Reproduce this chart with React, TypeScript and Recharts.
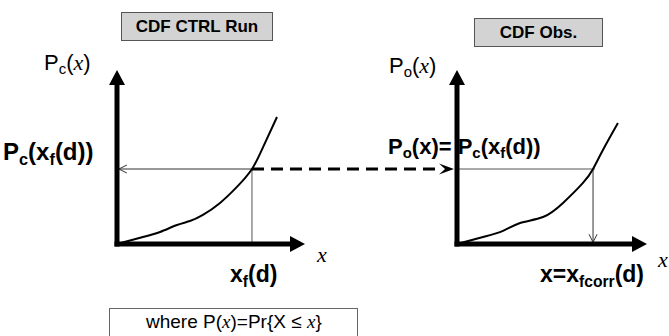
import React from 'react';
import { LineChart, Line, XAxis, YAxis, ReferenceLine } from 'recharts';

// curve points, x and P both on a 0..1 scale
const ctrlX = [0, 0.138, 0.229, 0.319, 0.388, 0.457, 0.548, 0.638, 0.718, 0.777, 0.851];
const ctrlP = [0, 0.04, 0.069, 0.109, 0.132, 0.167, 0.236, 0.328, 0.431, 0.557, 0.73];
const obsX = [0, 0.137, 0.242, 0.332, 0.453, 0.558, 0.663, 0.716, 0.768, 0.847];
const obsP = [0, 0.04, 0.075, 0.121, 0.155, 0.236, 0.351, 0.431, 0.54, 0.695];

const pLevel = 0.431;
const xf = 0.718;
const xfCorr = 0.716;

const ctrlData = ctrlX.map((x, i) => ({ x, p: ctrlP[i] }));
const obsData = obsX.map((x, i) => ({ x, p: obsP[i] }));

const W = 669;
const H = 336;
const leftPanel = { left: 117, right: 305, top: 70, bottom: 244 };
const rightPanel = { left: 457, right: 647, top: 70, bottom: 244 };

const sans = '"Liberation Sans", Arial, sans-serif';
const serif = '"Liberation Serif", "Times New Roman", serif';

type ArrowOpts = {
    width: number;
    color: string;
    head: 'solid' | 'open' | 'notch' | 'none';
    headLen?: number;
    headW?: number;
    dash?: string;
    cap?: 'butt' | 'square';
};

const arrowShape = (o: ArrowOpts) => (props: any) => {
    const { x1, y1, x2, y2 } = props;
    const dx = x2 - x1;
    const dy = y2 - y1;
    const len = Math.hypot(dx, dy) || 1;
    const ux = dx / len;
    const uy = dy / len;
    const nx = -uy;
    const ny = ux;
    const hl = o.headLen ?? 0;
    const hw = (o.headW ?? 0) / 2;
    const bx = x2 - ux * hl;
    const by = y2 - uy * hl;
    const filled = o.head === 'solid' || o.head === 'notch';
    const endX = filled ? bx + ux * 2 : x2;
    const endY = filled ? by + uy * 2 : y2;
    let head: React.ReactNode = null;
    if (o.head === 'solid') {
        head = <polygon points={`${x2},${y2} ${bx + nx * hw},${by + ny * hw} ${bx - nx * hw},${by - ny * hw}`} fill={o.color} />;
    } else if (o.head === 'notch') {
        const mx = x2 - ux * hl * 0.6;
        const my = y2 - uy * hl * 0.6;
        head = <polygon points={`${x2},${y2} ${bx + nx * hw},${by + ny * hw} ${mx},${my} ${bx - nx * hw},${by - ny * hw}`} fill={o.color} />;
    } else if (o.head === 'open') {
        head = (
            <polyline
                points={`${bx + nx * hw},${by + ny * hw} ${x2},${y2} ${bx - nx * hw},${by - ny * hw}`}
                fill="none"
                stroke={o.color}
                strokeWidth={1}
            />
        );
    }
    return (
        <g>
            <line
                x1={x1}
                y1={y1}
                x2={endX}
                y2={endY}
                stroke={o.color}
                strokeWidth={o.width}
                strokeDasharray={o.dash}
                strokeLinecap={o.cap ?? 'butt'}
            />
            {head}
        </g>
    );
};

const axisArrow = arrowShape({ width: 5, color: '#000', head: 'solid', headLen: 15, headW: 16, cap: 'square' });
const thinGray = arrowShape({ width: 1, color: '#555', head: 'none' });
const thinLeftArrow = arrowShape({ width: 1, color: '#333', head: 'open', headLen: 8, headW: 8 });
const thinDownArrow = arrowShape({ width: 1, color: '#333', head: 'open', headLen: 8, headW: 8 });
const dashArrow = arrowShape({ width: 3, color: '#000', head: 'notch', headLen: 15, headW: 11, dash: '12 7' });

const panelMargin = (p: typeof leftPanel) => ({
    top: p.top,
    left: p.left,
    right: W - p.right,
    bottom: H - p.bottom,
});

// dashed connector ends just before the right panel's P axis
const dashEnd = (rightPanel.left - 3 - leftPanel.left) / (leftPanel.right - leftPanel.left);

const Sub: React.FC<{ children: React.ReactNode }> = ({ children }) => (
    <span style={{ fontSize: '0.68em', position: 'relative', top: '0.3em' }}>{children}</span>
);

const Ix: React.FC = () => <span style={{ fontFamily: serif, fontStyle: 'italic' }}>x</span>;

const Txt: React.FC<{ left: number; top: number; size: number; bold?: boolean; children: React.ReactNode }> = ({
    left,
    top,
    size,
    bold,
    children,
}) => (
    <div
        style={{
            position: 'absolute',
            left,
            top,
            fontSize: size,
            fontWeight: bold ? 'bold' : 'normal',
            fontFamily: sans,
            lineHeight: 1,
            whiteSpace: 'nowrap',
            color: '#000',
        }}
    >
        {children}
    </div>
);

const TitleBox: React.FC<{ left: number; top: number; width: number; size: number; text: string }> = ({
    left,
    top,
    width,
    size,
    text,
}) => (
    <div
        style={{
            position: 'absolute',
            left,
            top,
            width,
            height: 29,
            boxSizing: 'border-box',
            background: '#d3d3d3',
            border: '1px solid #555',
            fontFamily: sans,
            fontWeight: 'bold',
            fontSize: size,
            lineHeight: '27px',
            textAlign: 'center',
        }}
    >
        {text}
    </div>
);

export default function App() {
    return (
        <div style={{ position: 'absolute', left: 0, top: 0, width: W, height: H, background: '#fff', overflow: 'hidden' }}>
            <div style={{ position: 'absolute', left: 0, top: 0 }}>
                <LineChart width={W} height={H} data={ctrlData} margin={panelMargin(leftPanel)}>
                    <XAxis type="number" dataKey="x" domain={[0, 1]} hide />
                    <YAxis type="number" domain={[0, 1]} hide />
                    <ReferenceLine segment={[{ x: xf, y: pLevel }, { x: xf, y: 0 }]} shape={thinGray} />
                    <ReferenceLine segment={[{ x: xf, y: pLevel }, { x: 0.01, y: pLevel }]} shape={thinLeftArrow} />
                    <ReferenceLine
                        segment={[{ x: xf, y: pLevel }, { x: dashEnd, y: pLevel }]}
                        shape={dashArrow}
                        ifOverflow="visible"
                    />
                    <Line
                        dataKey="p"
                        type="natural"
                        stroke="#000"
                        strokeWidth={2}
                        dot={false}
                        isAnimationActive={false}
                    />
                    <ReferenceLine segment={[{ x: 0, y: 0 }, { x: 0, y: 1 }]} shape={axisArrow} />
                    <ReferenceLine segment={[{ x: 0, y: 0 }, { x: 1, y: 0 }]} shape={axisArrow} />
                </LineChart>
            </div>
            <div style={{ position: 'absolute', left: 0, top: 0 }}>
                <LineChart width={W} height={H} data={obsData} margin={panelMargin(rightPanel)}>
                    <XAxis type="number" dataKey="x" domain={[0, 1]} hide />
                    <YAxis type="number" domain={[0, 1]} hide />
                    <ReferenceLine segment={[{ x: 0, y: pLevel }, { x: xfCorr + 0.01, y: pLevel }]} shape={thinGray} />
                    <ReferenceLine segment={[{ x: xfCorr, y: pLevel }, { x: xfCorr, y: 0.01 }]} shape={thinDownArrow} />
                    <Line
                        dataKey="p"
                        type="natural"
                        stroke="#000"
                        strokeWidth={2}
                        dot={false}
                        isAnimationActive={false}
                    />
                    <ReferenceLine segment={[{ x: 0, y: 0 }, { x: 0, y: 1 }]} shape={axisArrow} />
                    <ReferenceLine segment={[{ x: 0, y: 0 }, { x: 1, y: 0 }]} shape={axisArrow} />
                </LineChart>
            </div>

            <TitleBox left={121} top={12} width={152} size={17} text="CDF CTRL Run" />
            <TitleBox left={474} top={18} width={129} size={17} text="CDF Obs." />

            <Txt left={44} top={52} size={22}>
                P<Sub>c</Sub>(<Ix />)
            </Txt>
            <Txt left={3} top={140} size={24} bold>
                P<Sub>c</Sub>(x<Sub>f</Sub>(d))
            </Txt>
            <Txt left={230} top={263} size={23} bold>
                x<Sub>f</Sub>(d)
            </Txt>
            <Txt left={317} top={244} size={22}>
                <Ix />
            </Txt>

            <Txt left={389} top={55} size={22}>
                P<Sub>o</Sub>(<Ix />)
            </Txt>
            <Txt left={388} top={136} size={22} bold>
                P<Sub>o</Sub>(x)= P<Sub>c</Sub>(x<Sub>f</Sub>(d))
            </Txt>
            <Txt left={540} top={263} size={23} bold>
                x=x<Sub>fcorr</Sub>(d)
            </Txt>
            <Txt left={658} top={249} size={22}>
                <Ix />
            </Txt>

            <div
                style={{
                    position: 'absolute',
                    left: 109,
                    top: 308,
                    width: 249,
                    height: 40,
                    boxSizing: 'border-box',
                    border: '1px solid #666',
                    background: '#fff',
                }}
            />
            <Txt left={146} top={312} size={19}>
                where P(<Ix />)=Pr{'{'}X ≤ <Ix />{'}'}
            </Txt>
        </div>
    );
}
